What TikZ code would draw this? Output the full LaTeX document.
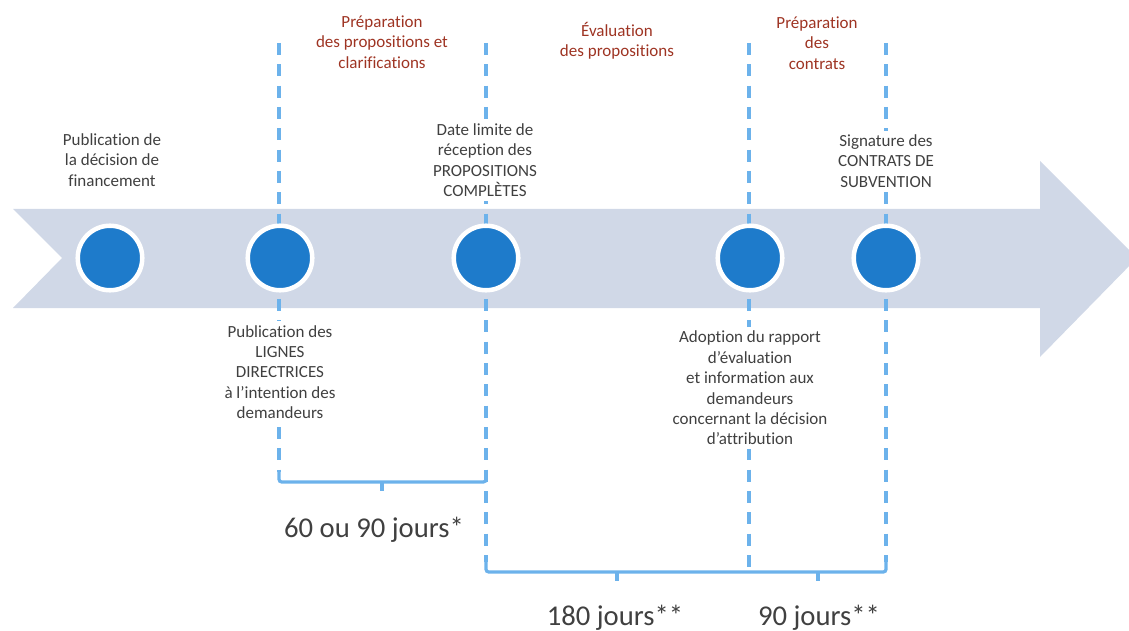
\documentclass[tikz,border=0pt]{standalone}
\usepackage{fontspec}
\setmainfont{Carlito}[Ligatures=NoCommon]
\usepackage{tikz}

\definecolor{bandgray}{HTML}{D0D8E7}
\definecolor{dotblue}{HTML}{1E7BCB}
\definecolor{guideblue}{HTML}{6CB2EB}
\definecolor{phasered}{HTML}{9E3423}
\definecolor{txtgray}{HTML}{404040}

\begin{document}
\begin{tikzpicture}[x=0.75pt, y=-0.75pt]
		\tikzstyle{Dot} = [circle, inner sep=0pt, minimum size=48.4pt, fill=dotblue, draw=white, line width=3.4pt]
		\tikzstyle{Label} = [align=center, fill=white, text=txtgray, inner sep=3pt, font=\fontsize{12.75}{15.3}\selectfont]
		\tikzstyle{Phase} = [align=center, text=phasered, inner sep=0pt, font=\fontsize{12.75}{15.3}\selectfont]
		\tikzstyle{Days} = [text=txtgray, inner sep=0pt, font=\fontsize{21.5}{25}\selectfont]
		\tikzstyle{guide} = [guideblue, line width=2.4pt, dash pattern=on 9pt off 7pt]
		\tikzstyle{brace} = [guideblue, line width=2.4pt, rounded corners=2pt]
		
		\clip (0,0) rectangle (1129,631);
		
		% big arrow
		\fill [bandgray] (13,209) -- (1040,209) -- (1040,161) -- (1137,258) -- (1040,357) -- (1040,308) -- (13,308) -- (62,258) -- cycle;
		
		% dashed guides
		\draw [guide] (279,43) -- (279,472);
		\draw [guide] (486,43) -- (486,562);
		\draw [guide] (749,43) -- (749,572);
		\draw [guide] (886,43) -- (886,562);
		
		% milestones
		\node (m1) [Dot] at (110,258) {};
		\node (m2) [Dot] at (280,258) {};
		\node (m3) [Dot] at (486,258) {};
		\node (m4) [Dot] at (750,258) {};
		\node (m5) [Dot] at (886,258) {};
		
		\node (t1) [Label] at (112,160) {Publication de\\la décision de\\financement};
		\node (t2) [Label] at (280,372) {Publication des\\LIGNES\\DIRECTRICES\\à l’intention des\\demandeurs};
		\node (t3) [Label] at (485,160) {Date limite de\\réception des\\PROPOSITIONS\\COMPLÈTES};
		\node (t4) [Label] at (750,388) {Adoption du rapport\\d’évaluation\\et information aux\\demandeurs\\concernant la décision\\d’attribution};
		\node (t5) [Label] at (886,161) {Signature des\\CONTRATS DE\\SUBVENTION};
		
		% phases
		\node (p1) [Phase] at (382,42) {Préparation\\des propositions et\\clarifications};
		\node (p2) [Phase] at (617,41) {Évaluation\\des propositions};
		\node (p3) [Phase] at (817,43) {Préparation\\des\\contrats};
		
		% durations
		\draw [brace] (279,470) -- (279,482) -- (486,482) -- (486,470);
		\draw [brace] (382,482) -- (382,491);
		\draw [brace] (486,560) -- (486,572) -- (886,572) -- (886,560);
		\draw [brace] (617,572) -- (617,581);
		\draw [brace] (818,572) -- (818,581);
		
		\node (d1) [Days] at (374,530) {60 ou 90 jours*};
		\node (d2) [Days] at (615,618) {180 jours**};
		\node (d3) [Days] at (819,618) {90 jours**};
\end{tikzpicture}
\end{document}
